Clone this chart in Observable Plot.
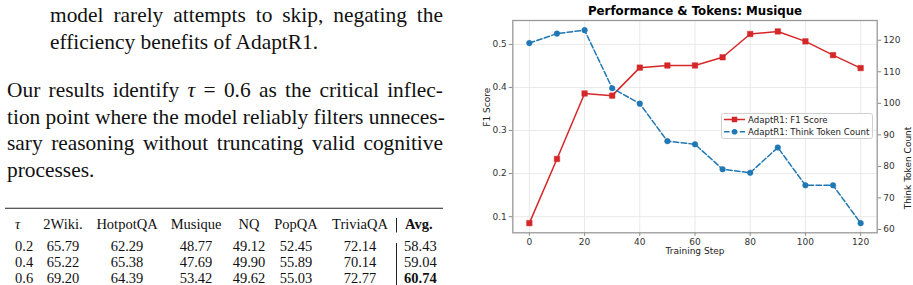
<!DOCTYPE html>
<html>
<head>
<meta charset="utf-8">
<script src="https://cdn.jsdelivr.net/npm/d3@7"></script>
<script src="https://cdn.jsdelivr.net/npm/@observablehq/plot@0.6"></script>
<style>
  html, body { margin: 0; padding: 0; background: #fff; }
  #page { position: relative; width: 913px; height: 285px; overflow: hidden; background: #fff; }
  .para { position: absolute; font-family: "Liberation Serif", "Times New Roman", serif; font-size: 21.4px; line-height: 26.8px; color: #111; }
  .para .j { text-align: justify; text-align-last: justify; white-space: nowrap; }
  .para .l { text-align: left; white-space: nowrap; }
  .para i { font-style: italic; }
  #table { position: absolute; left: 0; top: 200px; }
  #table text { font-family: "Liberation Serif", "Times New Roman", serif; font-size: 14.5px; fill: #111; }
  .chart { position: absolute; left: 460px; top: 0; }
  #legend { position: absolute; left: 721px; top: 113px; }
  #legend text { font-family: "DejaVu Sans", sans-serif; font-size: 8.6px; fill: #222; }
</style>
</head>
<body>
<div id="page">
  <div class="para" style="left:50px; top:1.9px; width:393px;">
    <div class="j">model rarely attempts to skip, negating the</div>
    <div class="l">efficiency benefits of AdaptR1.</div>
  </div>
  <div class="para" style="left:7px; top:76.9px; width:436px;">
    <div class="j">Our results identify <i>τ</i> = 0.6 as the critical inflec-</div>
    <div class="j">tion point where the model reliably filters unneces-</div>
    <div class="j">sary reasoning without truncating valid cognitive</div>
    <div class="l">processes.</div>
  </div>
  <svg id="table" width="460" height="85"></svg>
  <div id="chartF1" class="chart"></div>
  <div id="chartTok" class="chart"></div>
  <svg id="legend" width="153" height="27"></svg>
</div>
<script>
// Threshold ablation table
const tableHeader = ["τ", "2Wiki.", "HotpotQA", "Musique", "NQ", "PopQA", "TriviaQA", "Avg."];
const tauValues = ["0.2", "0.4", "0.6"];
const tableRows = [
  ["65.79", "62.29", "48.77", "49.12", "52.45", "72.14", "58.43"],
  ["65.22", "65.38", "47.69", "49.90", "55.89", "70.14", "59.04"],
  ["69.20", "64.39", "53.42", "49.62", "55.03", "72.77", "60.74"]
];

// Training curve on Musique
const trainingSteps = [0, 10, 20, 30, 40, 50, 60, 70, 80, 90, 100, 110, 120];
const f1Score = [0.085, 0.234, 0.386, 0.381, 0.446, 0.451, 0.451, 0.470, 0.524, 0.530, 0.507, 0.475, 0.445];
const thinkTokens = [119.1, 122.1, 123.2, 104.8, 99.9, 88.0, 87.0, 79.1, 78.0, 86.0, 74.0, 74.0, 62.0];
const stepTicks = [0, 20, 40, 60, 80, 100, 120];
const f1Ticks = [0.1, 0.2, 0.3, 0.4, 0.5];
const tokenTicks = [60, 70, 80, 90, 100, 110, 120];

const seriesNames = ["AdaptR1: F1 Score", "AdaptR1: Think Token Count"];
const chartTitle = "Performance & Tokens: Musique";
const xLabel = "Training Step";
const yLabelLeft = "F1 Score";
const yLabelRight = "Think Token Count";

const red = "#d62728";
const blue = "#1f77b4";

// ---- table ----
{
  const svg = d3.select("#table");
  const colX = [15, 63, 127, 196, 249, 296, 360];
  const avgX = 404;
  const headerY = 28.5, rowY = [50.8, 66.8, 83];
  svg.append("line").attr("x1", 5).attr("x2", 443).attr("y1", 8.3).attr("y2", 8.3)
    .attr("stroke", "#222").attr("stroke-width", 1.1);
  tableHeader.forEach((h, i) => {
    const t = svg.append("text").attr("y", headerY).text(h);
    if (i === 0) t.attr("x", colX[0]).style("font-style", "italic");
    else if (i === 7) t.attr("x", avgX + 1).style("font-weight", "bold");
    else t.attr("x", colX[i]).attr("text-anchor", "middle");
  });
  tauValues.forEach((tau, r) => {
    svg.append("text").attr("x", colX[0]).attr("y", rowY[r]).text(tau);
    tableRows[r].forEach((v, c) => {
      const t = svg.append("text").attr("y", rowY[r]).text(v);
      if (c === 6) {
        t.attr("x", avgX);
        if (r === 2) t.style("font-weight", "bold");
      } else {
        t.attr("x", colX[c + 1]).attr("text-anchor", "middle");
      }
    });
  });
  svg.append("line").attr("x1", 396.5).attr("x2", 396.5).attr("y1", 18).attr("y2", 32.5).attr("stroke", "#222").attr("stroke-width", 1);
  svg.append("line").attr("x1", 396.5).attr("x2", 396.5).attr("y1", 43).attr("y2", 85).attr("stroke", "#222").attr("stroke-width", 1);
}

// ---- chart ----
const data = trainingSteps.map((s, i) => ({step: s, f1: f1Score[i], tokens: thinkTokens[i]}));

const common = {
  width: 453,
  height: 262,
  marginLeft: 52.3,
  marginRight: 36.3,
  marginTop: 20,
  marginBottom: 29.7,
  style: {background: "transparent", fontFamily: "DejaVu Sans, sans-serif", fontSize: "9px", color: "#333", overflow: "visible"}
};

const f1Chart = Plot.plot({
  ...common,
  x: {domain: [-6, 126]},
  y: {domain: [0.0626, 0.5554]},
  marks: [
    Plot.gridX(stepTicks, {stroke: "#e3e3e3", strokeOpacity: 1, strokeWidth: 0.8}),
    Plot.gridY(f1Ticks, {stroke: "#e3e3e3", strokeOpacity: 1, strokeWidth: 0.8}),
    Plot.axisX(stepTicks, {tickSize: 3.5, tickPadding: 2, stroke: "#888", fill: "#333", label: null, tickFormat: d => String(d)}),
    Plot.axisY(f1Ticks, {anchor: "left", tickSize: 3.5, tickPadding: 2.5, stroke: "#888", fill: "#333", label: null, tickFormat: d => d.toFixed(1)}),
    Plot.frame({stroke: "#999", strokeWidth: 1.3}),
    Plot.line(data, {x: "step", y: "f1", stroke: red, strokeWidth: 1.5}),
    Plot.dot(data, {x: "step", y: "f1", symbol: "square", r: 3.1, fill: red, stroke: red, strokeWidth: 0.5}),
    Plot.text([chartTitle], {text: d => d, frameAnchor: "top", lineAnchor: "middle", dy: -9, fontWeight: "bold", fontSize: 11.8, fill: "#000"}),
    Plot.text([xLabel], {text: d => d, frameAnchor: "bottom", lineAnchor: "middle", dy: 18.5, fontSize: 9, fill: "#222"}),
    Plot.text([yLabelLeft], {text: d => d, frameAnchor: "left", lineAnchor: "middle", dx: -26, rotate: -90, fontSize: 9, fill: "#222"})
  ]
});
document.getElementById("chartF1").appendChild(f1Chart);

const tokChart = Plot.plot({
  ...common,
  x: {domain: [-6, 126], axis: null},
  y: {domain: [58.94, 126.26]},
  marks: [
    Plot.axisY(tokenTicks, {anchor: "right", tickSize: 3.5, tickPadding: 2.5, stroke: "#888", fill: "#333", label: null, tickFormat: d => String(d)}),
    Plot.line(data, {x: "step", y: "tokens", stroke: blue, strokeWidth: 1.5, strokeDasharray: "5.5,2.4"}),
    Plot.dot(data, {x: "step", y: "tokens", symbol: "circle", r: 2.8, fill: blue, stroke: blue, strokeWidth: 0.5}),
    Plot.text([yLabelRight], {text: d => d, frameAnchor: "right", lineAnchor: "middle", dx: 31, rotate: -90, fontSize: 9, fill: "#222"})
  ]
});
document.getElementById("chartTok").appendChild(tokChart);

// ---- legend ----
{
  const lg = d3.select("#legend");
  lg.append("rect").attr("x", 0.5).attr("y", 0.5).attr("width", 151).attr("height", 25)
    .attr("rx", 2).attr("fill", "rgba(255,255,255,0.85)").attr("stroke", "#d0d0d0");
  const rows = [
    {name: seriesNames[0], color: red, dash: null, shape: "square", y: 6.5},
    {name: seriesNames[1], color: blue, dash: "5.5,2.4", shape: "circle", y: 18.8}
  ];
  rows.forEach(r => {
    lg.append("line").attr("x1", 3).attr("x2", 24).attr("y1", r.y).attr("y2", r.y)
      .attr("stroke", r.color).attr("stroke-width", 1.5).attr("stroke-dasharray", r.dash);
    if (r.shape === "square") lg.append("rect").attr("x", 10.75).attr("y", r.y - 2.75).attr("width", 5.5).attr("height", 5.5).attr("fill", r.color);
    else lg.append("circle").attr("cx", 13.5).attr("cy", r.y).attr("r", 2.8).attr("fill", r.color);
    lg.append("text").attr("x", 27).attr("y", r.y).attr("dy", "0.35em").text(r.name);
  });
}
</script>
</body>
</html>
